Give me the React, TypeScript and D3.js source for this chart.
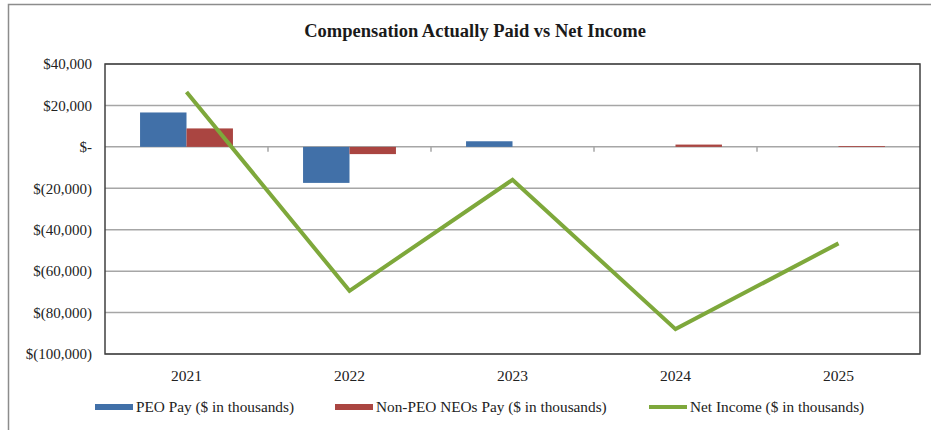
import React, { useEffect, useRef } from 'react'
import * as d3 from 'd3'

const years = ['2021', '2022', '2023', '2024', '2025']
const peoPay = [16600, -17400, 2700, 0, 0]
const nonPeoPay = [8900, -3500, 0, 1100, 400]
const netIncome = [26500, -69500, -15900, -88000, -46600]
const yTicks = [40000, 20000, 0, -20000, -40000, -60000, -80000, -100000]

const seriesNames = ['PEO Pay ($ in thousands)', 'Non-PEO NEOs Pay ($ in thousands)', 'Net Income ($ in thousands)']
const colors = ['#4170a8', '#aa4541', '#7ea83b']

const fmt = (v: number) => {
  if (v === 0) return '$-'
  const s = d3.format(',')(Math.abs(v))
  return v < 0 ? `$(${s})` : `$${s}`
}

const App = () => {
  const ref = useRef<SVGSVGElement>(null)

  useEffect(() => {
    const svg = d3.select(ref.current)
    svg.selectAll('*').remove()
    const font = "'Liberation Serif', 'DejaVu Serif', serif"

    const margin = { top: 64, right: 11, bottom: 76, left: 105 }
    const width = 931
    const height = 430
    const innerW = width - margin.left - margin.right
    const innerH = height - margin.top - margin.bottom

    // outer frame
    svg.append('path')
      .attr('d', `M8.5,${height + 2} V4.5 H${width + 2}`)
      .attr('fill', 'none')
      .attr('stroke', '#8c8c8c')
      .attr('stroke-width', 1.5)

    svg.append('text')
      .attr('x', 475)
      .attr('y', 37)
      .attr('text-anchor', 'middle')
      .style('font-family', font)
      .attr('font-weight', 'bold')
      .attr('font-size', 18.5)
      .attr('fill', '#1a1a1a')
      .text('Compensation Actually Paid vs Net Income')

    const g = svg.append('g').attr('transform', `translate(${margin.left},${margin.top})`)

    const x0 = d3.scaleBand().domain(years).range([0, innerW])
    const bw = x0.bandwidth()
    const x1 = d3.scaleBand().domain(['peo', 'non']).range([bw * 0.215, bw * 0.785])
    const y = d3.scaleLinear().domain([-100000, 40000]).range([innerH, 0])

    // gridlines
    g.selectAll('.grid')
      .data(yTicks)
      .enter()
      .append('line')
      .attr('x1', 0)
      .attr('x2', innerW)
      .attr('y1', (d) => y(d))
      .attr('y2', (d) => y(d))
      .attr('stroke', '#a6a6a6')
      .attr('stroke-width', 1.5)

    // y labels
    g.selectAll('.ylab')
      .data(yTicks)
      .enter()
      .append('text')
      .attr('x', -13)
      .attr('y', (d) => y(d))
      .attr('dy', '0.35em')
      .attr('text-anchor', 'end')
      .style('font-family', font)
      .attr('font-size', 15)
      .attr('fill', '#222')
      .text((d) => fmt(d))

    // bars
    const barData = years.flatMap((yr, i) => [
      { yr, key: 'peo', v: peoPay[i], c: colors[0] },
      { yr, key: 'non', v: nonPeoPay[i], c: colors[1] },
    ])
    g.selectAll('.bar')
      .data(barData)
      .enter()
      .append('rect')
      .attr('x', (d) => (x0(d.yr) as number) + (x1(d.key) as number))
      .attr('width', x1.bandwidth())
      .attr('y', (d) => y(Math.max(0, d.v)))
      .attr('height', (d) => Math.abs(y(d.v) - y(0)))
      .attr('fill', (d) => d.c)

    // category tick marks on zero line
    g.selectAll('.xtick')
      .data(years.slice(1))
      .enter()
      .append('line')
      .attr('x1', (d) => x0(d) as number)
      .attr('x2', (d) => x0(d) as number)
      .attr('y1', y(0))
      .attr('y2', y(0) + 5)
      .attr('stroke', '#a6a6a6')
      .attr('stroke-width', 1.5)

    // plot border
    g.append('rect')
      .attr('width', innerW)
      .attr('height', innerH)
      .attr('fill', 'none')
      .attr('stroke', '#404040')
      .attr('stroke-width', 1.5)

    // x labels
    g.selectAll('.xlab')
      .data(years)
      .enter()
      .append('text')
      .attr('x', (d) => (x0(d) as number) + bw / 2)
      .attr('y', innerH + 27)
      .attr('text-anchor', 'middle')
      .style('font-family', font)
      .attr('font-size', 15.5)
      .attr('fill', '#222')
      .text((d) => d)

    // net income line
    const line = d3.line<number>()
      .x((_, i) => (x0(years[i]) as number) + bw / 2)
      .y((d) => y(d))
    g.append('path')
      .datum(netIncome)
      .attr('d', line)
      .attr('fill', 'none')
      .attr('stroke', colors[2])
      .attr('stroke-width', 4)

    // legend
    const legendX = [95, 335, 649]
    const ly = 407
    seriesNames.forEach((name, i) => {
      const lg = svg.append('g').attr('transform', `translate(${legendX[i]},${ly})`)
      if (i < 2) {
        lg.append('rect').attr('x', 0).attr('y', -3).attr('width', 38).attr('height', 6).attr('fill', colors[i])
      } else {
        lg.append('line').attr('x1', 0).attr('x2', 38).attr('y1', 0).attr('y2', 0)
          .attr('stroke', colors[i]).attr('stroke-width', 4)
      }
      lg.append('text')
        .attr('x', 41)
        .attr('y', 0)
        .attr('dy', '0.35em')
        .style('font-family', font)
        .attr('font-size', 15.3)
        .attr('fill', '#222')
        .text(name)
    })
  }, [])

  return (
    <svg ref={ref} width={931} height={430} style={{ position: 'absolute', left: 0, top: 0, background: '#fff' }} />
  )
}

export default App
